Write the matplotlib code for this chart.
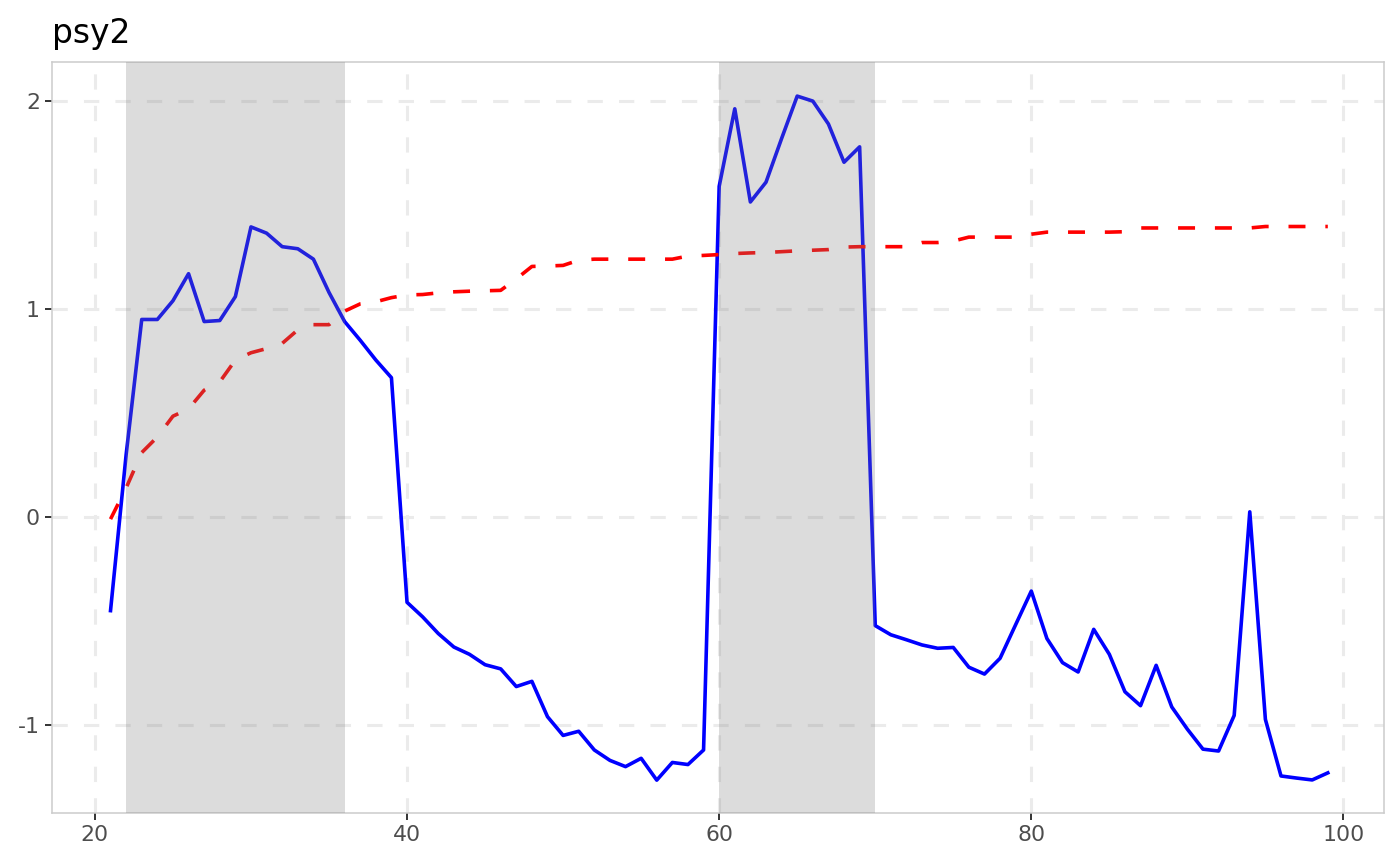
import matplotlib
matplotlib.use('Agg')
import matplotlib.pyplot as plt

# ---------------------------------------------- data ----------------------------------------------
x = list(range(21, 100))

bsadf = [-0.45, 0.30, 0.95, 0.95, 1.04, 1.17, 0.94, 0.945, 1.06, 1.395,
         1.365, 1.30, 1.29, 1.24, 1.08, 0.94, 0.85, 0.755, 0.67, -0.41,
         -0.48, -0.56, -0.625, -0.66, -0.71, -0.73, -0.815, -0.79, -0.96, -1.05,
         -1.03, -1.12, -1.17, -1.20, -1.16, -1.265, -1.18, -1.19, -1.12, 1.59,
         1.963, 1.515, 1.61, 1.82, 2.024, 2.00, 1.89, 1.706, 1.78, -0.522,
         -0.566, -0.59, -0.615, -0.631, -0.627, -0.722, -0.755, -0.679, -0.517, -0.356,
         -0.584, -0.70, -0.745, -0.54, -0.66, -0.84, -0.907, -0.713, -0.913, -1.02,
         -1.116, -1.125, -0.954, 0.025, -0.973, -1.245, -1.255, -1.264, -1.23]

cv = [-0.01, 0.14, 0.31, 0.385, 0.485, 0.52, 0.61, 0.65, 0.755, 0.79,
      0.81, 0.835, 0.90, 0.925, 0.925, 0.99, 1.025, 1.035, 1.055, 1.068,
      1.07, 1.078, 1.083, 1.086, 1.088, 1.09, 1.145, 1.205, 1.207, 1.21,
      1.235, 1.24, 1.24, 1.24, 1.24, 1.24, 1.24, 1.255, 1.258, 1.262,
      1.267, 1.27, 1.272, 1.276, 1.28, 1.283, 1.286, 1.298, 1.30, 1.30,
      1.30, 1.30, 1.32, 1.32, 1.327, 1.346, 1.346, 1.346, 1.346, 1.36,
      1.37, 1.37, 1.37, 1.37, 1.37, 1.372, 1.39, 1.39, 1.39, 1.39,
      1.39, 1.39, 1.39, 1.39, 1.397, 1.397, 1.397, 1.397, 1.397]

episode_start = [22, 60]
episode_end = [36, 70]

x_ticks = [20, 40, 60, 80, 100]
y_ticks = [-1, 0, 1, 2]

# ---------------------------------------------- plot ----------------------------------------------
plt.rcParams['font.family'] = ['DejaVu Sans']

fig = plt.figure(figsize=(14, 8.65), dpi=100)
ax = fig.add_axes([52/1400, 1 - 813/865, (1384 - 52)/1400, (813 - 62)/865])

ax.plot(x, bsadf, color='#0000FF', lw=2.6, zorder=2)
ax.plot(x, cv, color='#FF0000', lw=2.6, linestyle=(0, (4.7, 5.5)), zorder=2)

# shaded episodes sit on top of the lines, semi-transparent
for s, e in zip(episode_start, episode_end):
    ax.axvspan(s, e, color='#7F7F7F', alpha=0.27, lw=0, zorder=3)

ax.set_xlim(17.25, 102.6)
ax.set_ylim(-1.423, 2.188)
ax.set_xticks(x_ticks)
ax.set_yticks(y_ticks)
ax.set_yticklabels([str(v) for v in y_ticks])

ax.grid(True, color='#EBEBEB', lw=2.2, linestyle=(0, (5, 5.3)), zorder=0.5)
ax.set_axisbelow(True)

for sp in ax.spines.values():
    sp.set_color('#CCCCCC')
    sp.set_linewidth(1.1)

ax.tick_params(axis='both', colors='#333333', length=5, width=1.4,
               labelsize=15.8, labelcolor='#4D4D4D', pad=3.6)

ax.set_title('psy2', loc='left', fontsize=23.8, pad=14, color='black')

plt.savefig('out.png', dpi=100)
